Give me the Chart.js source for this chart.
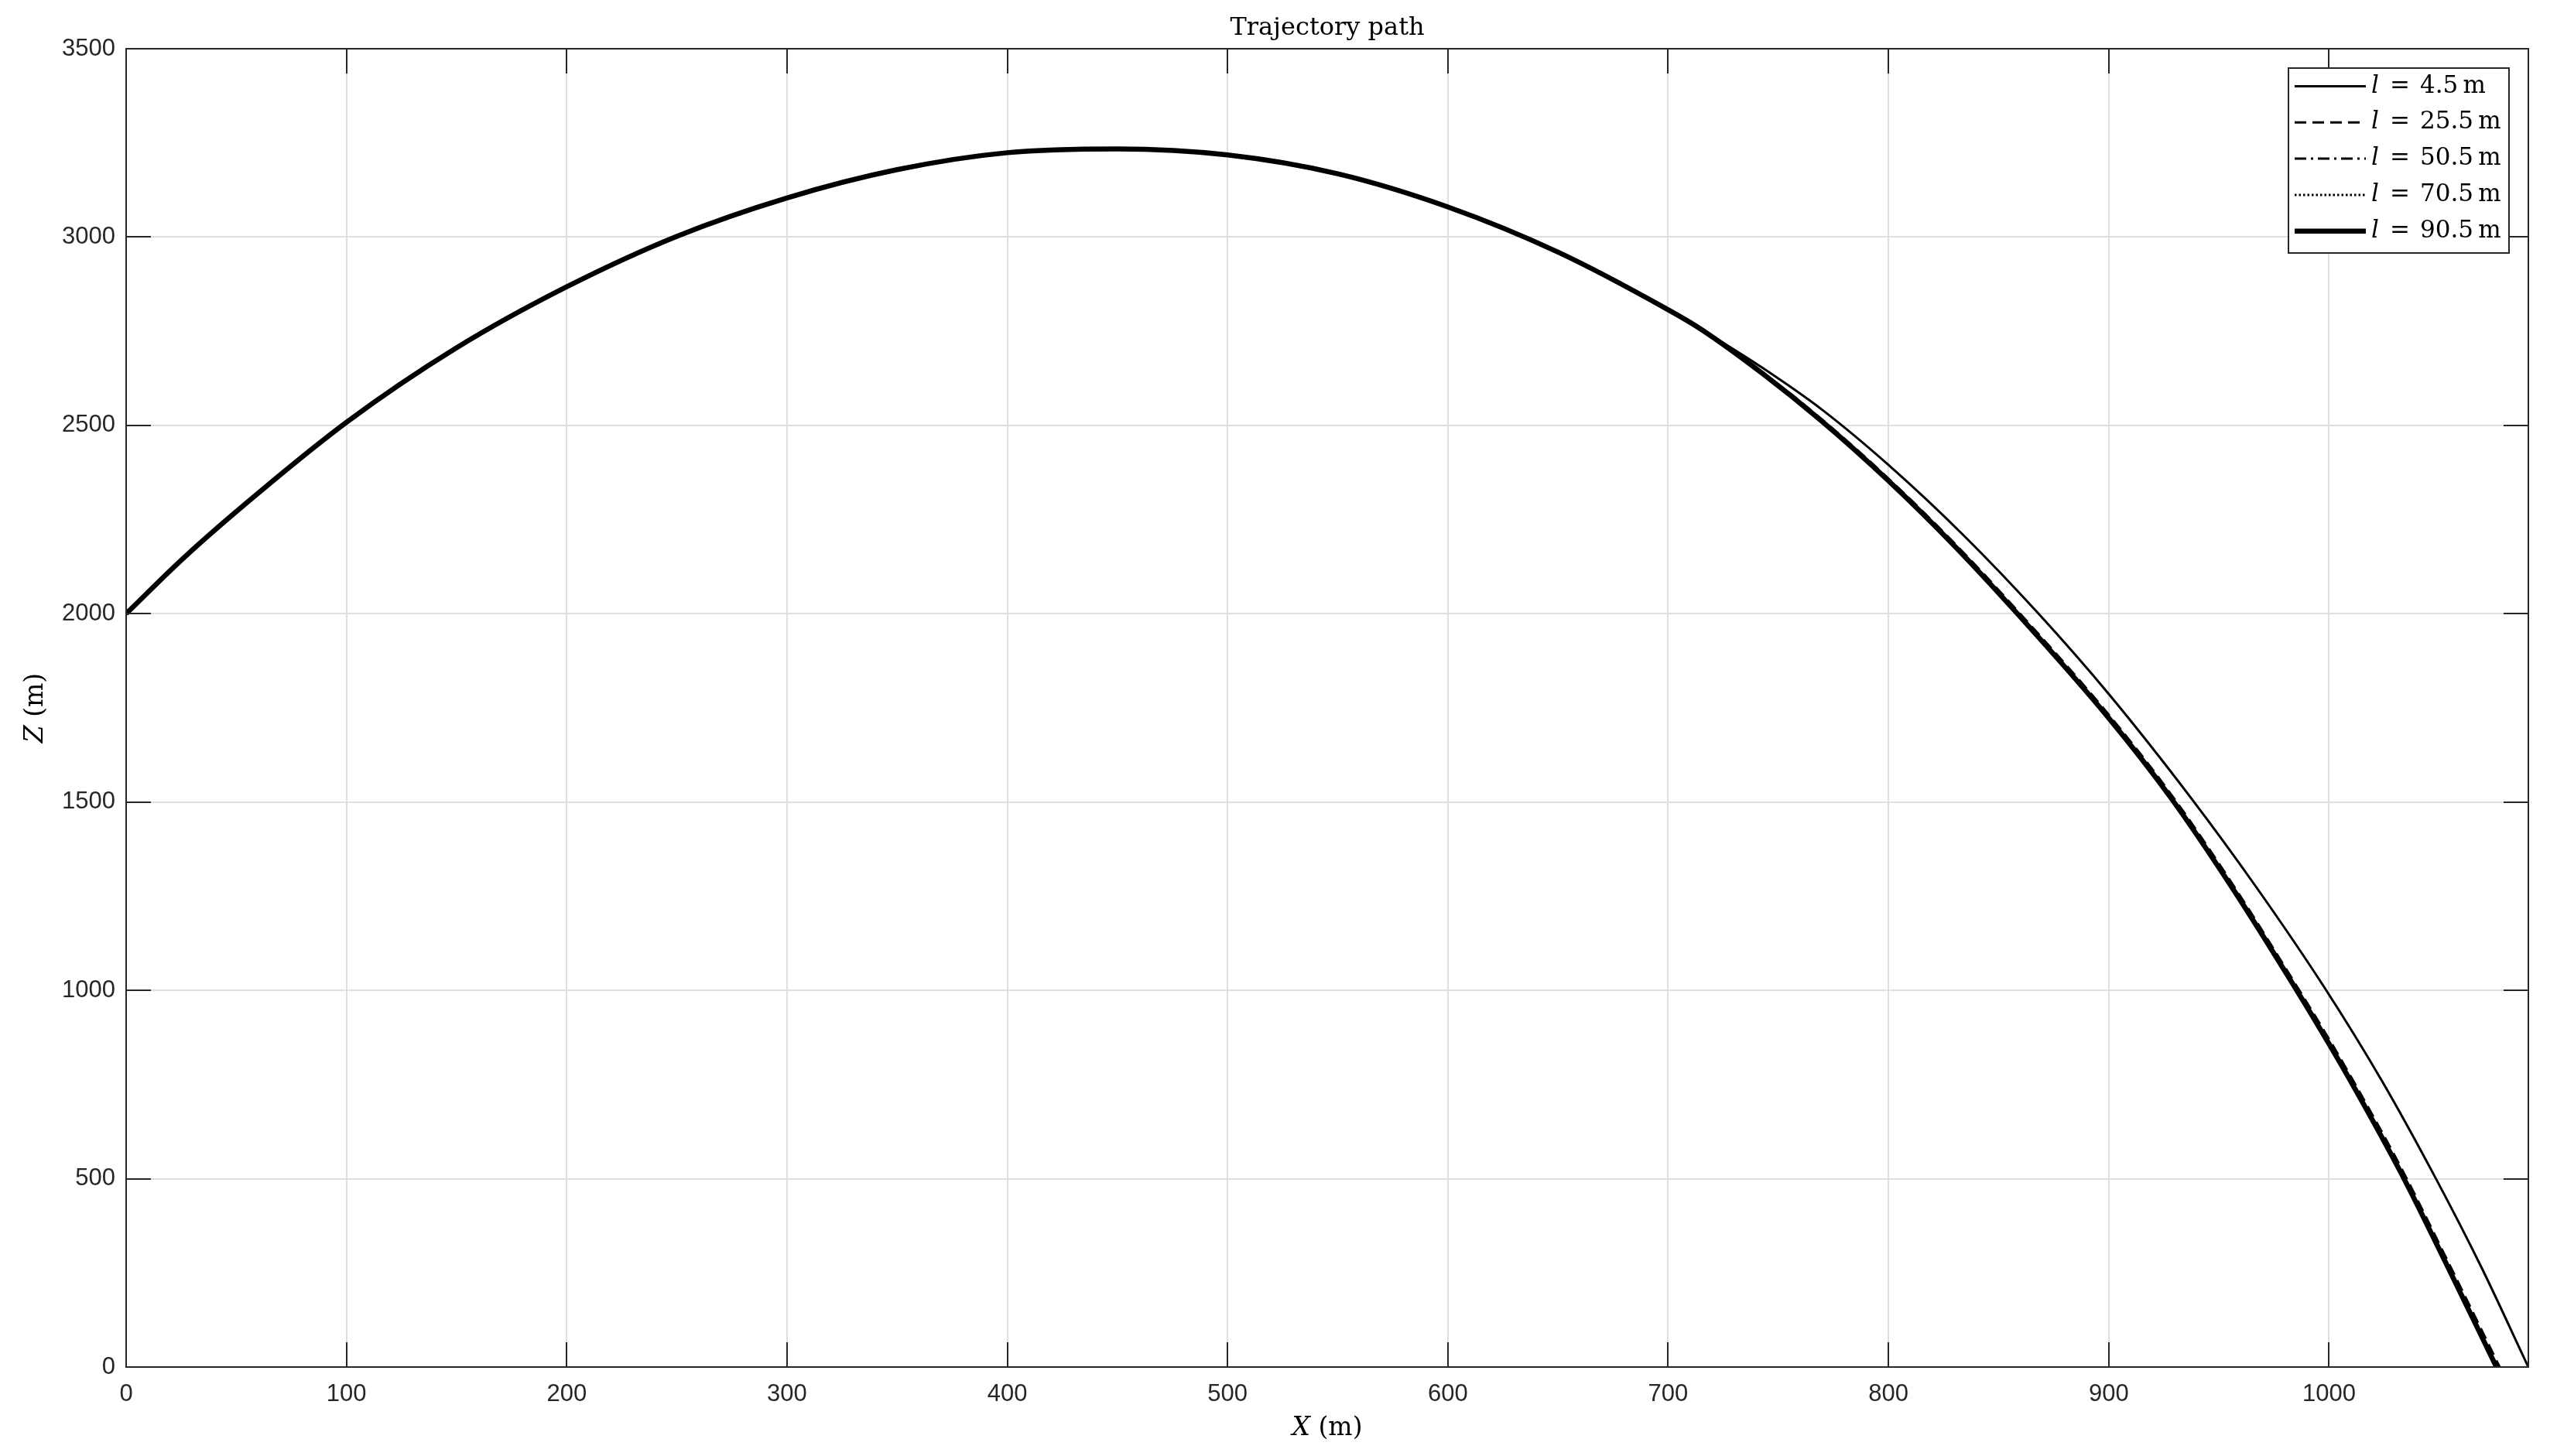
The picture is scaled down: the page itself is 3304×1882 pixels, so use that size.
<!DOCTYPE html>
<html><head><meta charset="utf-8">
<script src="https://cdn.jsdelivr.net/npm/chart.js@4.4.1/dist/chart.umd.min.js"></script>
<style>html,body{margin:0;padding:0;background:#fff;}#wrap{width:3304px;height:1882px;}</style>
</head><body><div id="wrap"><canvas id="c" width="3304" height="1882"></canvas></div>
<script>
// ---------- DATA ----------
const titleText = "Trajectory path";
const xAxisVar = "X", yAxisVar = "Z", axisUnit = " (m)";
const xTicks = [0, 100, 200, 300, 400, 500, 600, 700, 800, 900, 1000];
const yTicks = [0, 500, 1000, 1500, 2000, 2500, 3000, 3500];
const lengths = ["4.5", "25.5", "50.5", "70.5", "90.5"];

// shared part of the trajectory (all five curves coincide here)
const commonX = [0, 25, 50, 100, 150, 200, 250, 300, 350, 400, 450, 500, 550, 600, 650, 700, 715];
const commonZ = [2000, 2142, 2271, 2508, 2706, 2868, 3002, 3104, 3179, 3224, 3234, 3218, 3168, 3080, 2960, 2807, 2755];

// descending tails, one per cable length
const tailX_4_5  = [743, 770, 800, 835, 868, 900, 938, 967, 998, 1024, 1048, 1069, 1090.5];
const tailZ_4_5  = [2652, 2541, 2395, 2203, 2001, 1787, 1506, 1274, 1007, 760, 506, 267, 0];
const tailX_25_5 = [743, 770, 800, 830, 857, 900, 928, 957, 984, 1000, 1011, 1033, 1054, 1077.5];
const tailZ_25_5 = [2640, 2515, 2359, 2187, 2018, 1732, 1523, 1275, 1024, 871, 760, 526, 280, 0];
const tailX_50_5 = [743, 770, 800, 830, 857, 900, 928, 957, 984, 1000, 1011, 1033, 1054, 1076.5];
const tailZ_50_5 = [2638, 2512, 2355, 2182, 2012, 1726, 1516, 1267, 1016, 862, 751, 516, 270, 0];
const tailX_70_5 = [743, 770, 800, 830, 857, 900, 928, 957, 984, 1000, 1011, 1033, 1054, 1076];
const tailZ_70_5 = [2637, 2511, 2354, 2181, 2011, 1724, 1514, 1265, 1014, 859, 748, 513, 266, 0];
const tailX_90_5 = [743, 770, 800, 830, 857, 900, 928, 957, 984, 1000, 1011, 1033, 1054, 1076];
const tailZ_90_5 = [2637, 2510, 2353, 2180, 2010, 1723, 1513, 1264, 1013, 858, 747, 512, 265, 0];

// ---------- BUILD ----------
function pts(tx, tz) {
  const xs = commonX.concat(tx), zs = commonZ.concat(tz);
  return xs.map((x, i) => ({x: x, y: zs[i]}));
}
const tails = [[tailX_4_5, tailZ_4_5], [tailX_25_5, tailZ_25_5], [tailX_50_5, tailZ_50_5], [tailX_70_5, tailZ_70_5], [tailX_90_5, tailZ_90_5]];
const styles = [
  {w: 3, dash: []},
  {w: 3, dash: [15, 8]},
  {w: 3, dash: [15, 6, 3, 6]},
  {w: 3, dash: [2.5, 3]},
  {w: 6.5, dash: []}
];
const datasets = lengths.map((l, i) => ({
  label: "l = " + l + " m",
  data: pts(tails[i][0], tails[i][1]),
  showLine: true, pointRadius: 0, borderColor: '#000', backgroundColor: '#000',
  borderWidth: styles[i].w, borderDash: styles[i].dash, borderCapStyle: 'butt',
  cubicInterpolationMode: 'monotone', fill: false
}));
const xMax = Math.max(...tails.map(t => Math.max(...t[0])));

const AX = '#262626';
const framePlugin = {
  id: 'frame',
  afterDatasetsDraw(chart) {
    const {ctx, chartArea: a, scales} = chart;
    ctx.save();
    ctx.strokeStyle = AX; ctx.lineWidth = 2; ctx.setLineDash([]);
    ctx.beginPath();
    xTicks.forEach(v => {
      const p = Math.round(scales.x.getPixelForValue(v));
      ctx.moveTo(p, a.bottom); ctx.lineTo(p, a.bottom - 32);
      ctx.moveTo(p, a.top); ctx.lineTo(p, a.top + 32);
    });
    yTicks.forEach(v => {
      const p = Math.round(scales.y.getPixelForValue(v));
      ctx.moveTo(a.left, p); ctx.lineTo(a.left + 32, p);
      ctx.moveTo(a.right, p); ctx.lineTo(a.right - 32, p);
    });
    ctx.stroke();
    ctx.strokeRect(a.left, a.top, a.right - a.left, a.bottom - a.top);
    ctx.restore();
  },
  afterDraw(chart) {
    const {ctx, chartArea: a} = chart;
    ctx.save();
    ctx.fillStyle = '#000';
    // title
    ctx.font = '32px "DejaVu Serif"';
    ctx.textAlign = 'center'; ctx.textBaseline = 'alphabetic';
    ctx.fillText(titleText, (a.left + a.right) / 2, 45);
    // axis titles
    function mixed(varName, cx, cy) {
      ctx.font = 'italic 33px "DejaVu Serif"';
      const w1 = ctx.measureText(varName).width;
      ctx.font = '33px "DejaVu Serif"';
      const w2 = ctx.measureText(axisUnit).width;
      const x0 = cx - (w1 + w2) / 2;
      ctx.textAlign = 'left'; ctx.textBaseline = 'middle';
      ctx.font = 'italic 33px "DejaVu Serif"';
      ctx.fillText(varName, x0, cy);
      ctx.font = '33px "DejaVu Serif"';
      ctx.fillText(axisUnit, x0 + w1, cy);
    }
    mixed(xAxisVar, (a.left + a.right) / 2, 1846);
    ctx.save();
    ctx.translate(46, (a.top + a.bottom) / 2);
    ctx.rotate(-Math.PI / 2);
    mixed(yAxisVar, 0, 0);
    ctx.restore();
    // legend
    const bx = 2957, by = 88, bw = 285, bh = 239;
    ctx.fillStyle = '#fff';
    ctx.fillRect(bx, by, bw, bh);
    ctx.strokeStyle = AX; ctx.lineWidth = 2;
    ctx.strokeRect(bx, by, bw, bh);
    chart.data.datasets.forEach((ds, i) => {
      const y = 111.5 + i * 46.8;
      ctx.strokeStyle = '#000';
      ctx.lineWidth = ds.borderWidth;
      ctx.setLineDash(ds.borderDash || []);
      ctx.lineCap = 'butt';
      ctx.beginPath(); ctx.moveTo(2965, y); ctx.lineTo(3057, y); ctx.stroke();
      ctx.setLineDash([]);
      ctx.fillStyle = '#000';
      ctx.textAlign = 'left'; ctx.textBaseline = 'middle';
      ctx.font = 'italic 31px "DejaVu Serif"';
      ctx.fillText('l', 3064, y);
      ctx.font = '31px "DejaVu Serif"';
      ctx.fillText('=', 3088, y);
      ctx.fillText(lengths[i] + '\u2009m', 3127, y);
    });
    ctx.restore();
  }
};

new Chart(document.getElementById('c').getContext('2d'), {
  type: 'scatter',
  data: {datasets: datasets},
  options: {
    responsive: false, animation: false, devicePixelRatio: 1,
    layout: {padding: {left: 0, top: 63, right: 37, bottom: 0}},
    plugins: {legend: {display: false}, title: {display: false}, tooltip: {enabled: false}},
    scales: {
      x: {
        type: 'linear', min: 0, max: xMax,
        afterBuildTicks: s => { s.ticks = xTicks.map(v => ({value: v})); },
        ticks: {font: {family: 'Liberation Sans', size: 31}, color: AX, padding: 17, maxRotation: 0, autoSkip: false, callback: v => String(v)},
        grid: {color: '#dfdfdf', lineWidth: 2, drawTicks: false},
        border: {display: false},
        afterFit: s => { s.height = 115; }
      },
      y: {
        type: 'linear', min: 0, max: 3500,
        afterBuildTicks: s => { s.ticks = yTicks.map(v => ({value: v})); },
        ticks: {font: {family: 'Liberation Sans', size: 31}, color: AX, padding: 14, autoSkip: false, callback: v => String(v)},
        grid: {color: '#dfdfdf', lineWidth: 2, drawTicks: false},
        border: {display: false},
        afterFit: s => { s.width = 163; }
      }
    }
  },
  plugins: [framePlugin]
});
</script>
</body></html>
